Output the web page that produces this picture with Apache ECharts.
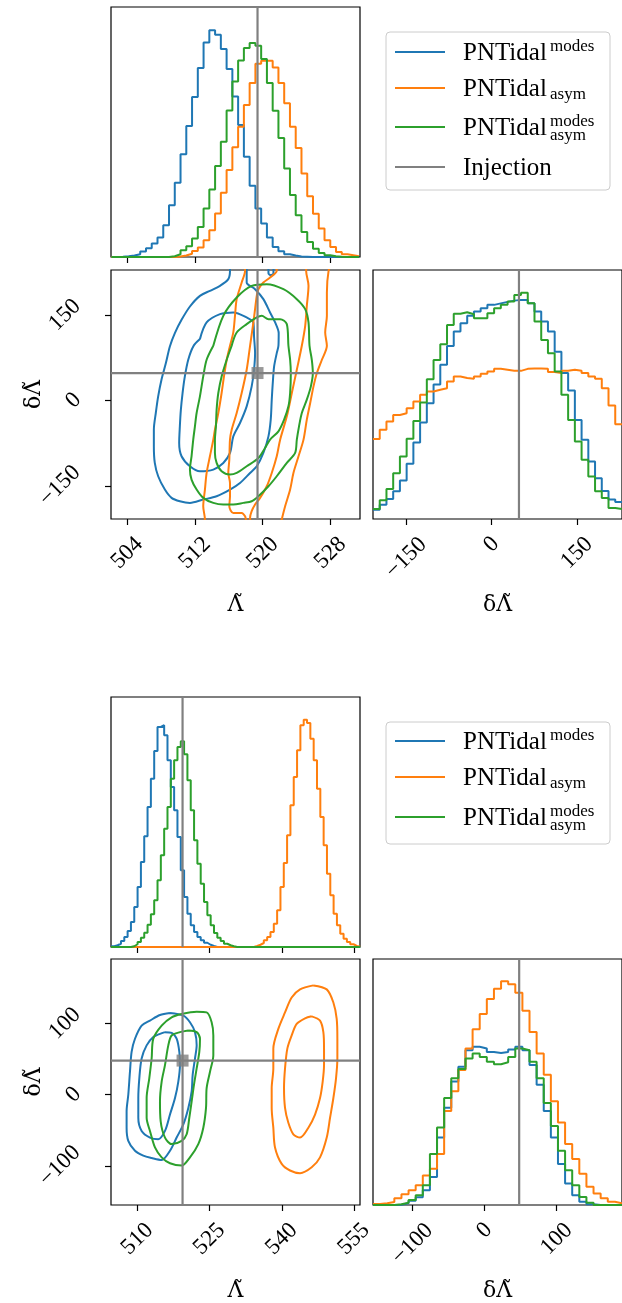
<!DOCTYPE html>
<html><head><meta charset="utf-8">
<script src="https://cdn.jsdelivr.net/npm/echarts@6/dist/echarts.min.js"></script>
<style>html,body{margin:0;padding:0;background:#fff}#c{width:622px;height:1303px}</style>
</head><body><div id="c"></div>
<script>
// ================= DATA =================
const injection = [519.4, 48];   // [Lambda~, delta Lambda~]

// ---- Figure A (top corner plot) ----
const lamA_range = [502.1, 531.5];
const dlamA_range = [-208.4, 229];
const lamA_ticks = [504, 512, 520, 528];
const dlamA_ticks = [-150, 0, 150];
const lamA_bin0 = 502.15, lamA_binw = 0.68;
const lamA_blue   = [0,1,3,6,11,22,35,54,78,127, 207,297,411,524,640,756,858,907,889,832, 752,642,528,401,285,194,134,78,40,23, 11,6,2,1,0,0,0,0,0,0, 0,0,0];
const lamA_orange = [0,0,0,0,0,0,0,0,0,0, 0,2,6,13,24,38,67,107,174,257, 348,439,521,608,696,773,785,785,758,696, 615,521,436,334,243,173,114,67,40,20, 11,7,3];
const lamA_green  = [0,0,0,0,0,0,0,0,0,0, 3,11,27,43,74,120,194,270,364,461, 586,702,786,836,856,845,792,696,585,476, 354,248,167,100,60,33,16,7,3,1, 0,0,0];
const dlamA_bin0 = -208.4, dlamA_binw = 11.82;
const dlamA_blue   = [37,57,80,111,155,222,307,388,465,540, 619,695,753,786,816,833,846,860,866,872, 877,880,880,866,833,793,753,672,586,516, 398,318,231,164,112,78,68];
const dlamA_orange = [321,358,392,418,425,445,472,499,512,519, 525,552,572,566,563,572,583,592,603,599, 595,595,603,604,604,603,590,586,595,599, 595,586,572,563,525,456,381];
const dlamA_green  = [40,75,120,184,251,322,394,468,561,639, 702,779,824,830,822,806,806,826,846,860, 873,900,909,866,793,719,666,592,499,398, 311,238,171,111,84,44,40];

// 2D credible contours, points as [Lambda~, delta Lambda~]
const contA_blue_outer = [[516.15,240.9],[516.15,227.5],[515.95,212.9],[514.97,201.2],[513.78,192.4],[512.60,183.6],[511.42,164.9],[510.43,141.5],[509.64,118.1],[509.05,94.7],[508.58,65.5],[508.06,36.3],[507.67,7.0],[507.39,-22.2],[507.16,-51.5],[507.16,-80.7],[507.27,-109.9],[507.67,-133.3],[508.46,-156.7],[509.25,-171.3],[510.23,-177.2],[511.42,-180.1],[512.99,-174.3],[514.57,-168.4],[516.15,-156.7],[517.33,-145.0],[518.52,-127.5],[519.31,-115.8],[520.09,-92.4],[520.69,-63.2],[520.96,-33.9],[521.08,1.2],[521.20,30.4],[521.36,59.6],[521.67,83.0],[521.87,95.9],[521.90,118.0],[521.48,136.8],[520.88,154.4],[520.09,177.8],[519.11,195.3],[518.12,207.0],[518.12,227.5],[518.12,240.9]];
const contA_blue_notch = [[520.69,240.9],[520.69,223.4],[520.96,219.9],[521.28,223.4],[521.28,240.9]];
const contA_blue_inner = [[512.60,107.6],[513.39,136.8],[514.97,151.5],[516.54,154.4],[518.12,145.6],[518.91,136.8],[518.99,112.3],[519.11,83.0],[518.99,53.8],[518.71,24.6],[518.12,-10.5],[517.33,-39.8],[516.54,-63.2],[516.15,-92.4],[515.36,-109.9],[514.18,-121.6],[512.60,-124.6],[511.42,-115.8],[510.43,-98.2],[510.15,-74.9],[510.23,-45.6],[510.35,-16.4],[510.55,12.9],[510.82,42.1],[511.22,71.3],[511.81,94.7]];
const contA_green_outer = [[514.18,95.9],[515.36,148.5],[516.94,180.7],[518.71,201.2],[520.49,204.1],[522.46,195.3],[524.04,177.8],[525.03,160.2],[525.42,136.8],[525.54,95.9],[525.81,71.3],[525.93,48.0],[525.70,24.6],[525.22,1.2],[524.63,-22.2],[524.30,-45.6],[524.04,-69.0],[523.84,-92.4],[522.86,-109.9],[521.67,-133.3],[520.69,-150.9],[519.50,-168.4],[518.71,-177.2],[517.73,-180.1],[516.54,-183.0],[515.36,-183.0],[514.18,-180.1],[512.99,-171.3],[512.21,-156.7],[511.61,-139.2],[511.42,-121.6],[511.61,-98.2],[511.81,-69.0],[512.01,-45.6],[512.21,-22.2],[512.60,7.0],[512.99,42.1],[513.39,71.3]];
const contA_green_inner = [[516.35,95.9],[516.94,119.3],[518.12,133.9],[519.31,145.6],[519.90,148.5],[520.69,142.7],[522.07,142.7],[522.86,133.9],[523.05,95.9],[523.25,71.3],[523.33,48.0],[523.25,12.9],[523.05,-10.5],[522.54,-33.9],[521.87,-54.4],[520.88,-69.0],[520.29,-83.6],[519.50,-101.2],[518.12,-115.8],[516.94,-127.5],[516.15,-130.4],[515.16,-124.6],[514.57,-109.9],[514.37,-92.4],[514.37,-69.0],[514.49,-45.6],[514.57,-16.4],[514.77,12.9],[515.16,42.1],[515.76,71.3]];
const contA_orange_outerL = [[517.93,240.9],[517.93,227.5],[517.53,207.0],[516.94,177.8],[516.74,148.5],[516.54,119.3],[516.15,95.9],[515.76,71.3],[515.44,42.1],[515.16,12.9],[514.77,-22.2],[514.37,-51.5],[514.18,-69.0],[513.78,-98.2],[513.39,-127.5],[513.19,-156.7],[512.99,-186.0],[513.19,-209.4],[513.19,-215.2]];
const contA_orange_outerR = [[528.18,240.9],[527.79,227.5],[527.59,189.5],[527.59,148.5],[527.39,119.3],[527.59,95.9],[527.00,71.3],[526.41,48.0],[526.01,24.6],[525.62,-4.7],[525.22,-33.9],[524.83,-69.0],[524.24,-98.2],[523.64,-127.5],[523.25,-156.7],[522.66,-186.0],[522.26,-209.4],[522.19,-215.2]];
const contA_orange_inner = [[521.67,240.9],[521.67,227.5],[520.88,215.8],[520.09,207.0],[519.50,195.3],[519.31,183.6],[519.11,160.2],[518.91,136.8],[518.52,95.9],[518.12,53.8],[517.53,12.9],[516.94,-22.2],[516.35,-51.5],[516.15,-69.0],[516.07,-104.1],[515.95,-127.5],[516.15,-145.0],[516.15,-168.4],[516.07,-186.0],[516.54,-197.7],[517.53,-197.7],[517.93,-203.5],[518.12,-212.3],[518.52,-212.3],[518.52,-206.4],[518.71,-194.7],[519.11,-183.0],[519.70,-171.3],[520.49,-150.9],[521.08,-127.5],[521.67,-98.2],[522.07,-69.0],[522.86,-28.1],[523.45,12.9],[524.04,53.8],[524.63,95.9],[525.03,131.0],[525.22,166.1],[525.42,201.2],[525.14,227.5],[525.14,240.9]];

// ---- Figure B (bottom corner plot) ----
const lamB_range = [504.54, 556.25];
const dlamB_range = [-155, 190.8];
const lamB_ticks = [510, 525, 540, 555];
const dlamB_ticks = [-100, 0, 100];
const lamB_bin0 = 504.54, lamB_binw = 0.69;
const lamB_blue   = [3,7,13,24,40,64,100,160,240,340, 443,560,673,784,880,887,847,747,640,547, 440,307,200,133,87,60,40,27,17,9, 4,0,0,0,0,0,0,0,0,0, 0,0,0,0,0,0,0,0,0,0, 0,0,0,0,0,0,0,0,0,0, 0,0,0,0,0,0,0,0,0,0, 0,0,0,0,0];
const lamB_orange = [0,0,0,0,0,0,0,0,0,0, 0,0,0,0,0,0,0,0,0,0, 0,0,0,0,0,0,0,0,0,0, 0,0,0,0,0,0,0,0,0,0, 0,0,0,4,9,16,27,40,60,93, 147,240,336,447,567,680,787,887,909,896, 833,747,633,520,407,293,207,133,87,53, 33,20,11,4,1];
const lamB_green  = [0,0,0,0,0,0,3,11,20,37, 57,89,131,187,267,367,473,560,673,747, 800,823,771,667,547,427,333,253,180,127, 87,56,37,24,13,7,3,0,0,0, 0,0,0,0,0,0,0,0,0,0, 0,0,0,0,0,0,0,0,0,0, 0,0,0,0,0,0,0,0,0,0, 0,0,0,0,0];
const dlamB_bin0 = -155, dlamB_binw = 9.88;
const dlamB_blue   = [0,0,0,1,7,17,31,60,114,274, 395,502,562,629,643,636,622,618,622,632, 643,629,569,489,382,274,167,87,40,13, 3,0,0,0,0];
const dlamB_orange = [4,7,12,27,44,60,80,120,147,207, 382,462,549,636,714,776,837,879,910,897, 863,790,703,616,529,422,335,248,187,127, 74,47,27,13,7];
const dlamB_green  = [0,0,0,3,9,20,40,80,207,315, 435,515,553,596,616,602,582,572,580,602, 636,629,582,515,415,321,221,141,80,33, 9,0,0,0,0];

const contB_blue_outer = [[516.79,114.8],[519.56,111.1],[520.94,101.9],[521.98,88.0],[522.33,69.4],[521.98,50.9],[521.50,27.8],[521.29,4.6],[520.60,-18.5],[519.56,-41.7],[518.17,-60.2],[516.79,-78.7],[515.06,-91.7],[512.98,-88.9],[511.25,-85.6],[509.52,-78.7],[508.13,-64.8],[507.78,-46.3],[507.78,-23.1],[508.13,0],[508.48,32.4],[508.82,60.2],[509.52,78.7],[510.90,97.2],[512.63,104.2],[514.71,112.0]];
const contB_blue_inner = [[515.75,88.0],[517.13,87.0],[518.17,78.7],[518.73,60.2],[518.86,41.7],[518.52,18.5],[517.83,-4.6],[516.79,-27.8],[515.75,-50.9],[514.36,-62.5],[512.63,-60.2],[510.90,-50.9],[510.21,-32.4],[510.21,-4.6],[510.42,23.1],[510.90,50.9],[511.94,69.4],[513.32,81.0],[514.71,85.6]];
const contB_green_outer = [[519.21,113.4],[522.33,116.7],[524.40,115.7],[525.44,101.9],[525.79,83.3],[525.79,55.6],[525.10,32.4],[524.40,9.3],[524.27,-18.5],[523.71,-46.3],[522.67,-69.4],[520.94,-88.0],[519.21,-99.5],[516.79,-96.3],[515.06,-88.0],[513.67,-74.1],[512.63,-50.9],[511.94,-32.4],[511.94,-4.6],[512.49,23.1],[512.98,50.9],[513.32,78.7],[515.06,97.2],[517.13,108.8]];
const contB_green_inner = [[520.60,90.3],[522.33,88.0],[523.02,78.7],[522.88,60.2],[522.33,37.0],[521.77,13.9],[521.29,-9.3],[520.80,-32.4],[520.25,-55.6],[519.21,-64.8],[517.13,-69.4],[515.75,-60.2],[514.85,-37.0],[514.71,-9.3],[515.06,18.5],[515.75,41.7],[516.44,69.4],[517.13,83.3],[518.86,88.0]];
const contB_orange_outer = [[546.57,153.7],[549.34,148.1],[550.72,129.6],[551.41,106.5],[551.55,78.7],[551.55,50.9],[551.27,23.1],[550.72,-4.6],[550.03,-32.4],[549.34,-60.2],[547.95,-88.0],[546.22,-101.9],[543.80,-110.2],[541.72,-106.5],[539.99,-97.2],[538.60,-74.1],[538.25,-46.3],[537.91,-18.5],[537.91,9.3],[538.25,37.0],[538.25,64.8],[539.29,92.6],[540.68,115.7],[542.06,136.6],[543.80,148.1]];
const contB_orange_inner = [[546.22,110.2],[547.95,104.2],[548.64,88.0],[548.78,64.8],[548.78,41.7],[548.50,18.5],[547.95,-4.6],[546.91,-27.8],[545.53,-46.3],[543.80,-60.2],[542.41,-55.6],[541.37,-39.4],[540.68,-18.5],[540.47,9.3],[540.68,37.0],[541.16,64.8],[542.06,83.3],[543.10,99.5],[544.83,107.4]];

// ================= STYLE / LAYOUT =================
const FONT = "'Liberation Serif','DejaVu Serif',serif";
const NAMEFONT = "'DejaVu Serif','Liberation Serif',serif";
const COL = {blue:'#1f77b4', orange:'#ff7f0e', green:'#2ca02c', inj:'#808080'};
const LW = 2;
const LAMBDA = '\u039B\u0303', DLAMBDA = '\u03B4\u039B\u0303';

const grids = [
  {left:111, top:7,   width:249, height:250},
  {left:111, top:270, width:249, height:249},
  {left:373, top:270, width:249, height:249},
  {left:111, top:697, width:249, height:250},
  {left:111, top:959, width:249, height:249},
  {left:373, top:959, width:249, height:249}
].map(g => Object.assign({show:true, borderColor:'#000', borderWidth:1.2, backgroundColor:'transparent', containLabel:false}, g));

function fmt(v){ return v < 0 ? '\u2212' + Math.abs(v) : String(v); }
function cls(s){ return s.length <= 1 ? 'n1' : (s.length >= 4 ? 'n4' : 'n3'); }
const baseRich = {fontFamily: FONT, fontSize: 23, color:'#000'};
const richX = {n3: Object.assign({}, baseRich), n1: Object.assign({padding:[0,0,12,12]}, baseRich), n4: Object.assign({padding:[7,7,0,0]}, baseRich)};
const richY = {n3: Object.assign({}, baseRich), n1: Object.assign({padding:[12,0,0,12]}, baseRich), n4: Object.assign({padding:[0,7,7,0]}, baseRich)};

function labelCfg(ticks, rich, margin){
  return {show:true, customValues: ticks, rotate:45, align:'center', verticalAlign:'middle', margin,
    formatter: v => { const s = fmt(v); return '{' + cls(s) + '|' + s + '}'; }, rich};
}
function tickCfg(ticks){ return {show:true, customValues: ticks, length:6, inside:false, lineStyle:{color:'#000', width:1.2}}; }
const nameStyle = {fontFamily: NAMEFONT, fontSize: 22, color:'#000'};

function xAxisCfg(gi, range, ticks, withLabels, name){
  const a = {type:'value', gridIndex:gi, min:range[0], max:range[1], axisLine:{show:false, onZero:false}, splitLine:{show:false},
    axisTick: tickCfg(ticks), axisLabel: withLabels ? labelCfg(ticks, richX, 34) : {show:false, customValues: ticks}};
  if (name) Object.assign(a, {name, nameLocation:'middle', nameGap:75, nameMoveOverlap:false, nameTextStyle:nameStyle});
  return a;
}
function yAxisCfg(gi, range, ticks, name){
  if (!ticks) return {type:'value', gridIndex:gi, min:range[0], max:range[1], axisLine:{show:false, onZero:false}, axisTick:{show:false}, axisLabel:{show:false}, splitLine:{show:false}};
  return {type:'value', gridIndex:gi, min:range[0], max:range[1], axisLine:{show:false, onZero:false}, splitLine:{show:false},
    axisTick: tickCfg(ticks), axisLabel: labelCfg(ticks, richY, 46),
    name, nameLocation:'middle', nameGap:66, nameMoveOverlap:false, nameRotate:90, nameTextStyle:nameStyle};
}

const histMax = [0, 1000];
const xAxes = [
  xAxisCfg(0, lamA_range, lamA_ticks, false),
  xAxisCfg(1, lamA_range, lamA_ticks, true, LAMBDA),
  xAxisCfg(2, dlamA_range, dlamA_ticks, true, DLAMBDA),
  xAxisCfg(3, lamB_range, lamB_ticks, false),
  xAxisCfg(4, lamB_range, lamB_ticks, true, LAMBDA),
  xAxisCfg(5, dlamB_range, dlamB_ticks, true, DLAMBDA)
];
const yAxes = [
  yAxisCfg(0, histMax),
  yAxisCfg(1, dlamA_range, dlamA_ticks, DLAMBDA),
  yAxisCfg(2, histMax),
  yAxisCfg(3, histMax),
  yAxisCfg(4, dlamB_range, dlamB_ticks, DLAMBDA),
  yAxisCfg(5, histMax)
];

function hist(gi, bin0, binw, vals, color){
  const data = vals.map((v, i) => [bin0 + i * binw, v]);
  data.push([bin0 + vals.length * binw, vals[vals.length - 1]]);
  return {type:'line', xAxisIndex:gi, yAxisIndex:gi, data, step:'end', symbol:'none', showSymbol:false,
    lineStyle:{color, width:LW}, itemStyle:{color}, silent:true, z:2};
}
function contour(gi, pts, color, closed){
  const data = closed ? pts.concat([pts[0]]) : pts.slice();
  return {type:'line', xAxisIndex:gi, yAxisIndex:gi, data, symbol:'none', showSymbol:false, smooth:0.3, clip:true,
    lineStyle:{color, width:LW}, itemStyle:{color}, silent:true, z:2};
}
function seg(gi, p0, p1){
  return {type:'line', xAxisIndex:gi, yAxisIndex:gi, data:[p0, p1], symbol:'none', showSymbol:false,
    lineStyle:{color:COL.inj, width:2.2}, silent:true, z:4};
}

const series = [
  // Figure A
  hist(0, lamA_bin0, lamA_binw, lamA_blue, COL.blue),
  hist(0, lamA_bin0, lamA_binw, lamA_orange, COL.orange),
  hist(0, lamA_bin0, lamA_binw, lamA_green, COL.green),
  seg(0, [injection[0], histMax[0]], [injection[0], histMax[1]]),
  contour(1, contA_blue_outer, COL.blue, false),
  contour(1, contA_blue_notch, COL.blue, false),
  contour(1, contA_blue_inner, COL.blue, true),
  contour(1, contA_orange_outerL, COL.orange, false),
  contour(1, contA_orange_outerR, COL.orange, false),
  contour(1, contA_orange_inner, COL.orange, false),
  contour(1, contA_green_outer, COL.green, true),
  contour(1, contA_green_inner, COL.green, true),
  seg(1, [injection[0], dlamA_range[0]], [injection[0], dlamA_range[1]]),
  seg(1, [lamA_range[0], injection[1]], [lamA_range[1], injection[1]]),
  {type:'scatter', xAxisIndex:1, yAxisIndex:1, data:[injection], symbol:'rect', symbolSize:12, itemStyle:{color:COL.inj}, silent:true, z:5},
  hist(2, dlamA_bin0, dlamA_binw, dlamA_blue, COL.blue),
  hist(2, dlamA_bin0, dlamA_binw, dlamA_orange, COL.orange),
  hist(2, dlamA_bin0, dlamA_binw, dlamA_green, COL.green),
  seg(2, [injection[1], histMax[0]], [injection[1], histMax[1]]),
  // Figure B
  hist(3, lamB_bin0, lamB_binw, lamB_blue, COL.blue),
  hist(3, lamB_bin0, lamB_binw, lamB_orange, COL.orange),
  hist(3, lamB_bin0, lamB_binw, lamB_green, COL.green),
  seg(3, [injection[0], histMax[0]], [injection[0], histMax[1]]),
  contour(4, contB_blue_outer, COL.blue, true),
  contour(4, contB_blue_inner, COL.blue, true),
  contour(4, contB_orange_outer, COL.orange, true),
  contour(4, contB_orange_inner, COL.orange, true),
  contour(4, contB_green_outer, COL.green, true),
  contour(4, contB_green_inner, COL.green, true),
  seg(4, [injection[0], dlamB_range[0]], [injection[0], dlamB_range[1]]),
  seg(4, [lamB_range[0], injection[1]], [lamB_range[1], injection[1]]),
  {type:'scatter', xAxisIndex:4, yAxisIndex:4, data:[injection], symbol:'rect', symbolSize:12, itemStyle:{color:COL.inj}, silent:true, z:5},
  hist(5, dlamB_bin0, dlamB_binw, dlamB_blue, COL.blue),
  hist(5, dlamB_bin0, dlamB_binw, dlamB_orange, COL.orange),
  hist(5, dlamB_bin0, dlamB_binw, dlamB_green, COL.green),
  seg(5, [injection[1], histMax[0]], [injection[1], histMax[1]])
];

// ---- legends (graphic) ----
function txt(text, x, y, size){
  return {type:'text', x, y, silent:true, style:{text, fill:'#000', font: size + 'px ' + FONT, textAlign:'left', textVerticalAlign:'middle', align:'left', verticalAlign:'middle'}};
}
function legendBox(x, y, w, h, rows){
  const els = [{type:'rect', shape:{x, y, width:w, height:h, r:4}, style:{fill:'#fff', stroke:'#cccccc', lineWidth:1}, silent:true}];
  rows.forEach(r => {
    els.push({type:'line', shape:{x1:395, y1:r.y, x2:445, y2:r.y}, style:{stroke:r.color, lineWidth:2}, silent:true});
    els.push(txt(r.main, 463, r.y + 1, 25));
    if (r.sup) els.push(txt(r.sup, 550, r.y - 5, 17));
    if (r.sub) els.push(txt(r.sub, 550, r.y + (r.sup ? 9 : 7), 17));
  });
  return els;
}
const graphic = [].concat(
  legendBox(386, 32, 224, 158, [
    {y:52, color:COL.blue, main:'PNTidal', sup:'modes'},
    {y:88, color:COL.orange, main:'PNTidal', sub:'asym'},
    {y:127, color:COL.green, main:'PNTidal', sup:'modes', sub:'asym'},
    {y:167, color:COL.inj, main:'Injection'}
  ]),
  legendBox(386, 722, 224, 122, [
    {y:741, color:COL.blue, main:'PNTidal', sup:'modes'},
    {y:777, color:COL.orange, main:'PNTidal', sub:'asym'},
    {y:817, color:COL.green, main:'PNTidal', sup:'modes', sub:'asym'}
  ])
);

const chart = echarts.init(document.getElementById('c'), null, {renderer:'canvas'});
chart.setOption({animation:false, backgroundColor:'#fff', grid:grids, xAxis:xAxes, yAxis:yAxes, series, graphic});
</script></body></html>
